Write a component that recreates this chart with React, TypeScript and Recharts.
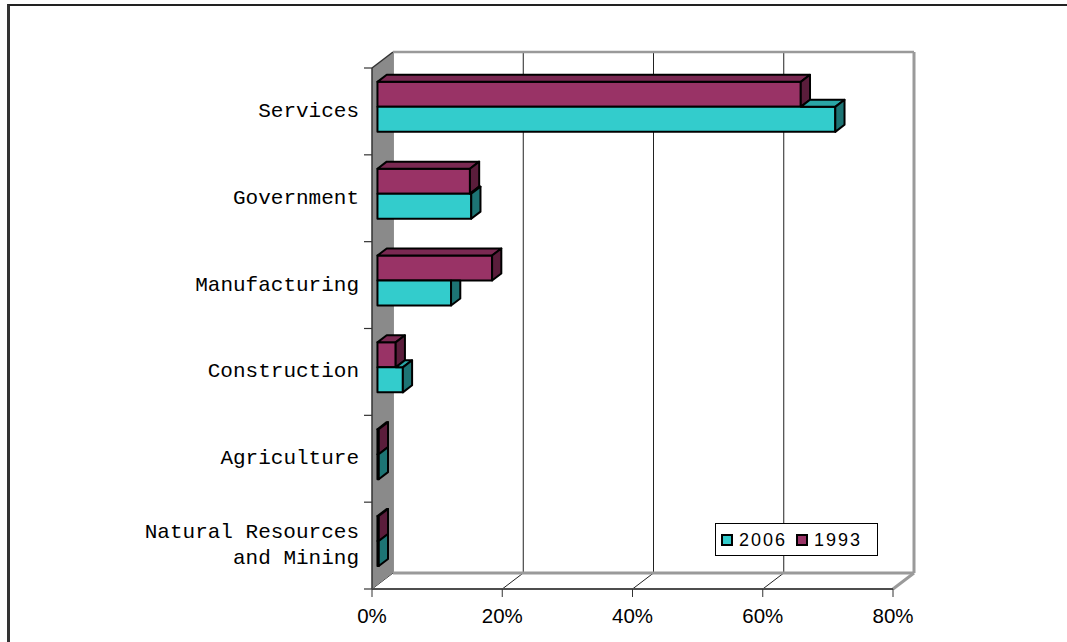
import React from 'react';
import { BarChart, Bar, XAxis, YAxis, CartesianGrid, ReferenceArea, Legend } from 'recharts';

// ---- data ----
const categories = [
  'Services',
  'Government',
  'Manufacturing',
  'Construction',
  'Agriculture',
  'Natural Resources\nand Mining',
];
const values1993 = [65.0, 14.2, 17.6, 2.8, 0.2, 0.2];
const values2006 = [70.3, 14.4, 11.3, 3.9, 0.2, 0.2];
const xTicks = [0, 20, 40, 60, 80];
const seriesNames = ['1993', '2006'];

const data = categories.map((name, i) => ({
  name,
  y1993: values1993[i],
  y2006: values2006[i],
}));

// ---- styling ----
const MONO = "'Liberation Mono', 'DejaVu Sans Mono', monospace";
const SANS = "'Liberation Sans', Arial, sans-serif";
const COLORS: Record<string, { front: string; top: string; side: string }> = {
  '1993': { front: '#993366', top: '#7a2952', side: '#5a1d3b' },
  '2006': { front: '#33CCCC', top: '#2aa6a6', side: '#1d7474' },
};
const WDX = 21; // wall depth x
const WDY = 16; // wall depth y
const BX = WDX * 0.26;
const BY = WDY * 0.26;
const BDX = WDX * 0.44;
const BDY = WDY * 0.44;

const pts = (...p: number[][]) => p.map((q) => `${q[0]},${q[1]}`).join(' ');

function Bar3D(props: any) {
  const { x, y, width, height, payload, series } = props;
  if (x == null || y == null) return null;
  const c = COLORS[series];
  const X = x + BX;
  const Y = y - BY;
  const w = Math.max(width || 0, 0);
  const h = height;
  const st = { stroke: '#000', strokeWidth: 2, strokeLinejoin: 'round' as const };
  let top: string | null = null;
  let side: string;
  if (series === '1993') {
    top = pts([X, Y], [X + BDX, Y - BDY], [X + w + BDX, Y - BDY], [X + w, Y]);
    side = pts([X + w, Y], [X + w + BDX, Y - BDY], [X + w + BDX, Y + h - BDY], [X + w, Y + h]);
  } else {
    const other = payload.y1993;
    const mine = payload.y2006;
    const wp = mine > 0 ? (w * other) / mine : 0;
    if (w > wp) {
      top = pts([X + wp, Y], [X + wp + BDX, Y - BDY], [X + w + BDX, Y - BDY], [X + w, Y]);
    }
    if (w >= wp) {
      side = pts([X + w, Y], [X + w + BDX, Y - BDY], [X + w + BDX, Y + h - BDY], [X + w, Y + h]);
    } else {
      side = pts([X + w, Y], [X + w + BDX, Y], [X + w + BDX, Y + h - BDY], [X + w, Y + h]);
    }
  }
  return (
    <g>
      <rect x={X} y={Y} width={w} height={h} fill={c.front} {...st} />
      {top && <polygon points={top} fill={c.top} {...st} />}
      <polygon points={side} fill={c.side} {...st} />
    </g>
  );
}

function Walls(props: any) {
  const { x, y, width: w, height: h } = props;
  if (x == null) return null;
  const n = categories.length;
  const gray = '#9a9a9a';
  return (
    <g>
      <polygon
        points={pts([x, y], [x + WDX, y - WDY], [x + WDX, y + h - WDY], [x, y + h])}
        fill="#8a8a8a"
        stroke="none"
      />
      <line x1={x} y1={y} x2={x + WDX} y2={y - WDY} stroke="#333" strokeWidth={1.5} />
      <line x1={x + WDX} y1={y - WDY} x2={x + w + WDX} y2={y - WDY} stroke={gray} strokeWidth={2.5} />
      <line x1={x + w + WDX} y1={y - WDY} x2={x + w + WDX} y2={y + h - WDY} stroke={gray} strokeWidth={3} />
      <line x1={x + WDX} y1={y + h - WDY} x2={x + w + WDX} y2={y + h - WDY} stroke={gray} strokeWidth={3} />
      <line x1={x + w} y1={y + h} x2={x + w + WDX} y2={y + h - WDY} stroke={gray} strokeWidth={3} />
      <line x1={x} y1={y} x2={x} y2={y + h} stroke="#333" strokeWidth={1.5} />
      {Array.from({ length: n + 1 }, (_, i) => (
        <line key={i} x1={x - 8} y1={y + (i * h) / n} x2={x} y2={y + (i * h) / n} stroke="#333" strokeWidth={1.2} />
      ))}
    </g>
  );
}

function GridLine(props: any) {
  const { x1, y1, y2 } = props;
  return (
    <g key={props.key}>
      <line x1={x1} y1={y2} x2={x1 + WDX} y2={y2 - WDY} stroke="#222" strokeWidth={1} />
      <line x1={x1 + WDX} y1={y1 - WDY} x2={x1 + WDX} y2={y2 - WDY} stroke="#222" strokeWidth={1} />
    </g>
  );
}

function CatTick(props: any) {
  const { x, y, payload } = props;
  const lines = String(payload.value).split('\n');
  const n = lines.length;
  return (
    <text x={x} y={y} textAnchor="end" fontFamily={MONO} fontSize={21} fill="#000">
      {lines.map((l, i) => (
        <tspan key={i} x={x} y={y + 5.5 + (i - (n - 1) / 2) * 26.6}>
          {l}
        </tspan>
      ))}
    </text>
  );
}

function PctTick(props: any) {
  const { x, y, payload } = props;
  return (
    <text x={x} y={y + 24} textAnchor="middle" fontFamily={SANS} fontSize={20.5} fill="#000">
      {`${payload.value}%`}
    </text>
  );
}

function LegendBox(props: any) {
  const items = [...(props.payload || [])].reverse();
  return (
    <div
      style={{
        boxSizing: 'border-box',
        width: 163,
        height: 33,
        border: '1px solid #000',
        background: '#fff',
        display: 'flex',
        alignItems: 'center',
        paddingLeft: 5,
        fontFamily: SANS,
        fontSize: 18,
        letterSpacing: 2,
        color: '#000',
      }}
    >
      {items.map((it: any, i: number) => (
        <div key={i} style={{ display: 'flex', alignItems: 'center', marginLeft: i ? 9 : 0 }}>
          <span
            style={{
              display: 'inline-block',
              width: 12,
              height: 12,
              boxSizing: 'border-box',
              border: '2px solid #000',
              background: it.color,
              marginRight: 6,
            }}
          />
          <span style={{ lineHeight: '18px' }}>{it.value}</span>
        </div>
      ))}
    </div>
  );
}

export default function App() {
  return (
    <div
      style={{
        position: 'absolute',
        left: 0,
        top: 0,
        width: 1067,
        height: 642,
        overflow: 'hidden',
        background: '#fff',
      }}
    >
      <div
        style={{
          position: 'absolute',
          left: 7,
          top: 4,
          width: 1200,
          height: 800,
          borderLeft: '3px solid #333',
          borderTop: '2px solid #222',
        }}
      />
      <div style={{ position: 'absolute', left: 0, top: 0 }}>
        <BarChart
          width={1067}
          height={642}
          data={data}
          layout="vertical"
          margin={{ top: 68, right: 174, bottom: 13, left: 12 }}
          barSize={25}
          barGap={0}
        >
          <CartesianGrid horizontal={false} vertical={(p: any) => <GridLine {...p} />} />
          <ReferenceArea x1={0} x2={80} shape={(p: any) => <Walls {...p} />} />
          <XAxis
            type="number"
            domain={[0, 80]}
            ticks={xTicks}
            interval={0}
            height={40}
            tickSize={8}
            tickLine={{ stroke: '#333' }}
            axisLine={{ stroke: '#4d4d4d', strokeWidth: 2 }}
            tick={(p: any) => <PctTick {...p} />}
          />
          <YAxis
            type="category"
            dataKey="name"
            width={360}
            interval={0}
            tickLine={false}
            axisLine={false}
            tickSize={8}
            tickMargin={5}
            tick={(p: any) => <CatTick {...p} />}
          />
          <Bar
            dataKey="y1993"
            name={seriesNames[0]}
            fill={COLORS['1993'].front}
            isAnimationActive={false}
            shape={(p: any) => <Bar3D {...p} series="1993" />}
          />
          <Bar
            dataKey="y2006"
            name={seriesNames[1]}
            fill={COLORS['2006'].front}
            isAnimationActive={false}
            shape={(p: any) => <Bar3D {...p} series="2006" />}
          />
          <Legend
            layout="horizontal"
            verticalAlign="middle"
            align="center"
            wrapperStyle={{ position: 'absolute', left: 715, top: 523, width: 163, height: 33 }}
            content={(p: any) => <LegendBox {...p} />}
          />
        </BarChart>
      </div>
    </div>
  );
}
